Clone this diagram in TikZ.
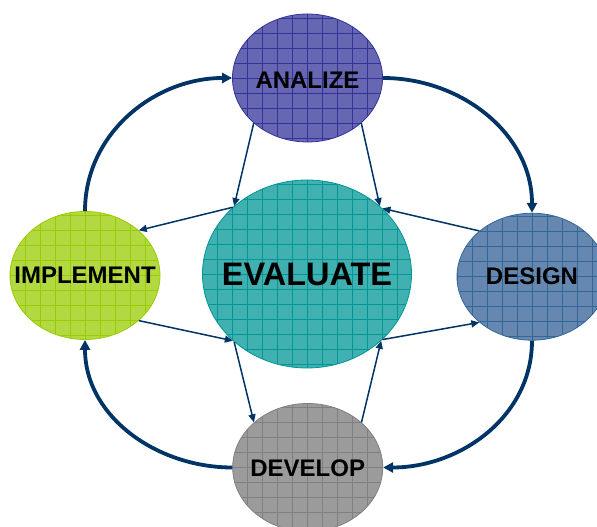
\documentclass[tikz,border=0pt]{standalone}
\usepackage{fontspec}
\setmainfont{Liberation Sans}
\usepackage{xcolor}
\usetikzlibrary{shapes.geometric}
\usetikzlibrary{arrows.meta}

\definecolor{anafill}{RGB}{102,102,178}
\definecolor{anagrid}{RGB}{51,51,153}
\definecolor{evafill}{RGB}{64,176,176}
\definecolor{evagrid}{RGB}{0,150,150}
\definecolor{impfill}{RGB}{179,217,66}
\definecolor{impgrid}{RGB}{153,204,0}
\definecolor{desfill}{RGB}{102,136,176}
\definecolor{desgrid}{RGB}{51,102,153}
\definecolor{devfill}{RGB}{155,155,155}
\definecolor{devgrid}{RGB}{128,128,128}
\definecolor{navy}{RGB}{0,51,102}

\tikzset{
  phase/.style 2 args={ellipse, fill=#1, draw=#2, line width=0.8pt, inner sep=0pt,
    minimum width=150pt, minimum height=128pt,
    path picture={
      \begin{scope}[shift={(path picture bounding box.center)}]
        \draw[#2, line width=0.7pt] (-120pt,-120pt) grid[step=15pt] (120pt,120pt);
      \end{scope}}},
  word/.style={font=\bfseries\fontsize{24}{28}\selectfont},
  bigword/.style={font=\bfseries\fontsize{32.5}{36}\selectfont},
  loopline/.style={navy, line width=3.8pt, -{Triangle[length=10pt,width=10pt]}},
  feedline/.style={navy, line width=1.5pt, -{Triangle[length=8pt,width=7pt]}},
}

\begin{document}
\begin{tikzpicture}[x=1pt,y=1pt]
\useasboundingbox (0,0) rectangle (597,527);
\clip (0,0) rectangle (597,527);

% phases
\node[phase={anafill}{anagrid}] (ana) at (307.5,449) {};
\node[phase={evafill}{evagrid}, minimum width=209pt, minimum height=188pt] (eva) at (307,253) {};
\node[phase={impfill}{impgrid}] (imp) at (85,251.5) {};
\node[phase={desfill}{desgrid}, minimum height=127pt] (des) at (532,250.3) {};
\node[phase={devfill}{devgrid}] (dev) at (307.7,59.5) {};

\node[word] (ana-t) at ([yshift=-2pt]ana.center) {ANALIZE};
\node[bigword] (eva-t) at (eva.center) {EVALUATE};
\node[word] (imp-t) at (imp.center) {IMPLEMENT};
\node[word] (des-t) at (des.center) {DESIGN};
\node[word] (dev-t) at ([yshift=-1pt]dev.center) {DEVELOP};

% outer cycle
\draw[loopline] (imp.north) to[out=90,in=180] (ana.west);
\draw[loopline] (ana.east) to[out=0,in=90] (des.north);
\draw[loopline] (des.south) to[out=270,in=0] (dev.east);
\draw[loopline] (dev.west) to[out=180,in=270] (imp.south);

% links through the centre
\draw[feedline] (ana.220) -- (eva.137);
\draw[feedline] (ana.320) -- (eva.43);
\draw[feedline] (des.139) -- (eva.41);
\draw[feedline] (eva.138) -- (imp.40);
\draw[feedline] (imp.320) -- (eva.222);
\draw[feedline] (eva.223) -- (dev.140);
\draw[feedline] (dev.40) -- (eva.318);
\draw[feedline] (eva.319) -- (des.221);

\end{tikzpicture}
\end{document}
